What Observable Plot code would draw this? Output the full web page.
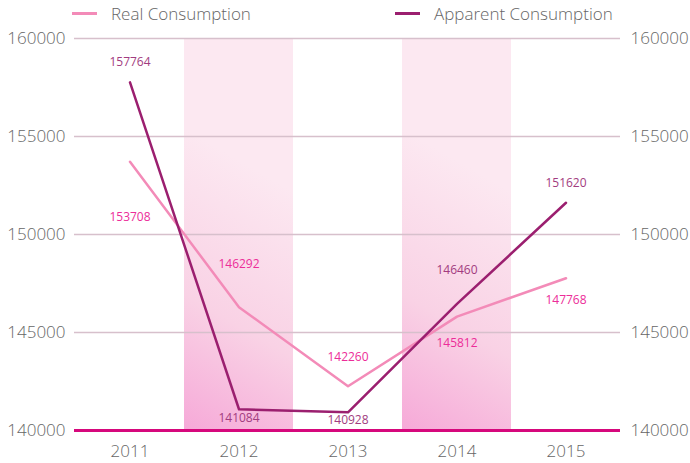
<!DOCTYPE html>
<html>
<head>
<meta charset="utf-8">
<script src="https://cdn.jsdelivr.net/npm/d3@7"></script>
<script src="https://cdn.jsdelivr.net/npm/@observablehq/plot@0.6"></script>
<style>
  body { margin: 0; background: #fff; font-family: "Open Sans", sans-serif; }
  #wrap { position: relative; width: 690px; height: 463px; }
  #legend { position: relative; height: 18px; font-size: 17px; font-weight: 300; color: #666; }
  .item { position: absolute; top: 2px; display: flex; align-items: center; }
  .sw { width: 25px; height: 3px; margin-right: 14px; }
</style>
</head>
<body>
<div id="wrap">
  <div id="legend"></div>
  <div id="chart"></div>
</div>
<script>
const years = ["2011", "2012", "2013", "2014", "2015"];
const realConsumption = [153708, 146292, 142260, 145812, 147768];
const apparentConsumption = [157764, 141084, 140928, 146460, 151620];
const shadedYears = ["2012", "2014"];
const yTicks = [140000, 145000, 150000, 155000, 160000];
const seriesNames = ["Real Consumption", "Apparent Consumption"];

// label placement (layout only)
const realLabelDy = [55, -43, -29, 27, 22];
const apparentLabelDy = [-20, 9, 8, -34, -20];

const realColor = "#f38bb8";
const apparentColor = "#9b1f6f";

const legend = document.getElementById("legend");
[[seriesNames[0], realColor, 72], [seriesNames[1], apparentColor, 395]].forEach(([name, c, x]) => {
  const d = document.createElement("div");
  d.className = "item";
  d.style.left = x + "px";
  d.innerHTML = `<span class="sw" style="background:${c}"></span><span>${name}</span>`;
  legend.appendChild(d);
});

const real = years.map((y, i) => ({year: y, value: realConsumption[i], dy: realLabelDy[i]}));
const apparent = years.map((y, i) => ({year: y, value: apparentConsumption[i], dy: apparentLabelDy[i]}));
const shade = shadedYears.map(y => ({year: y}));

const labels = (data, color) => data.map(d =>
  Plot.text([d], {x: "year", y: "value", text: d => String(d.value), dy: d.dy, fill: color, fontSize: 12, fontWeight: 400})
);

const chart = Plot.plot({
  width: 690,
  height: 445,
  marginLeft: 74,
  marginRight: 70,
  marginTop: 20,
  marginBottom: 33,
  style: {fontFamily: "Open Sans, sans-serif", background: "#fff"},
  x: {domain: years, padding: 0, axis: null},
  y: {domain: [140000, 160000], axis: null},
  marks: [
    () => {
      const svg = d3.create("svg:defs");
      const g = svg.append("linearGradient").attr("id", "bandGrad")
        .attr("x1", "0").attr("y1", "1").attr("x2", "0.12").attr("y2", "0.25");
      g.append("stop").attr("offset", "0").attr("stop-color", "#f6a9d8");
      g.append("stop").attr("offset", "0.45").attr("stop-color", "#f9d2e5");
      g.append("stop").attr("offset", "1").attr("stop-color", "#fce8f1");
      return svg.node();
    },
    Plot.barY(shade, {x: "year", y1: 140000, y2: 160000, fill: "url(#bandGrad)"}),
    Plot.ruleY(yTicks.filter(t => t > 140000), {stroke: "#d7c0cc", strokeWidth: 1.5}),
    Plot.ruleY([140000], {stroke: "#d6087c", strokeWidth: 3}),
    Plot.axisY({ticks: yTicks, anchor: "left", tickSize: 0, tickPadding: 9, tickFormat: d3.format("d"), fontSize: 17, fontWeight: 300, fill: "#666", label: null}),
    Plot.axisY({ticks: yTicks, anchor: "right", tickSize: 0, tickPadding: 10, tickFormat: d3.format("d"), fontSize: 17, fontWeight: 300, fill: "#666", label: null}),
    Plot.axisX({tickSize: 0, tickPadding: 14, fontSize: 17, fontWeight: 300, fill: "#666", label: null}),
    Plot.line(real, {x: "year", y: "value", stroke: realColor, strokeWidth: 2.5}),
    Plot.line(apparent, {x: "year", y: "value", stroke: apparentColor, strokeWidth: 2.5}),
    ...labels(real, "#ec2d99"),
    ...labels(apparent, "#a23c80")
  ]
});
document.getElementById("chart").appendChild(chart);
</script>
</body>
</html>
